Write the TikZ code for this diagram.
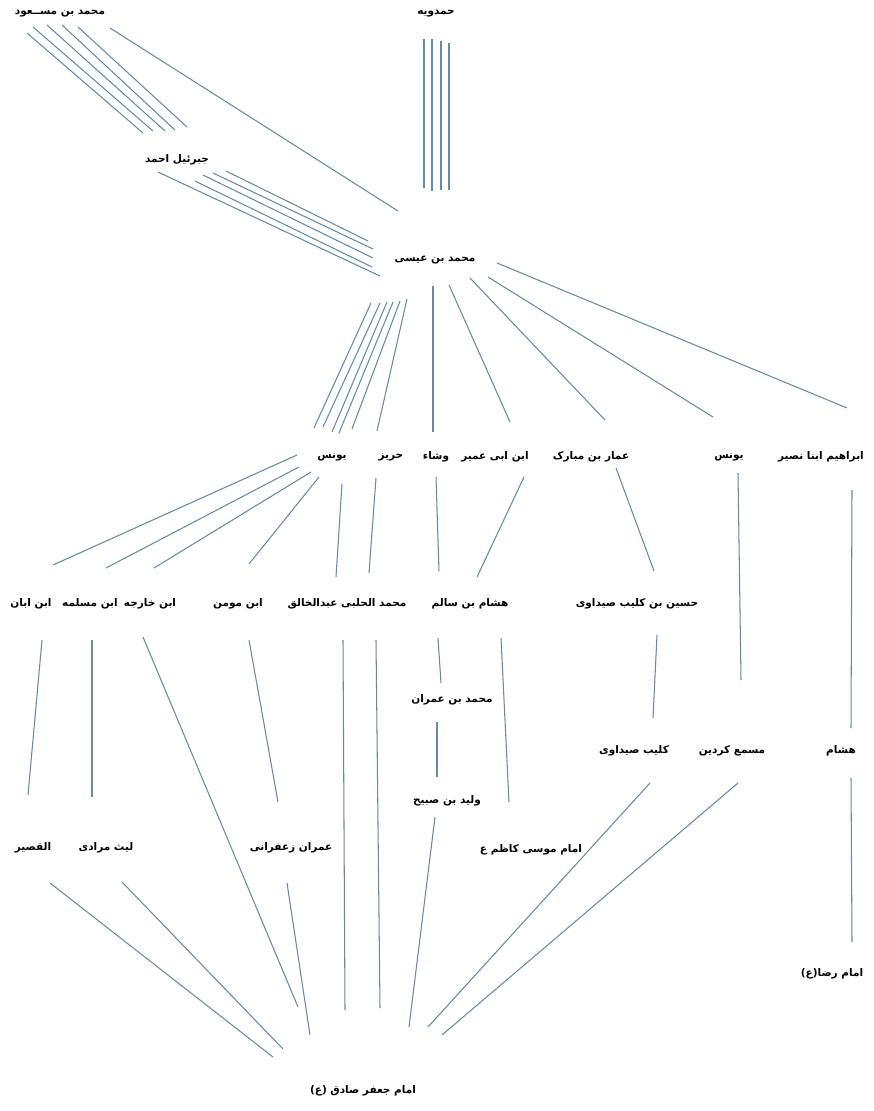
\documentclass[tikz,border=0pt]{standalone}
\usepackage{fontspec}
\TeXXeTstate=1
\newfontfamily\arabicfont[Script=Arabic]{DejaVu Sans}
\definecolor{linecol}{RGB}{100,138,172}
\newcommand\artext[1]{\beginR #1\endR}
\tikzset{
  lbl/.style={font=\arabicfont\bfseries\fontsize{10.5}{12}\selectfont, inner sep=0pt, text=black},
  link/.style={draw=linecol, line width=1.05pt}
}
\begin{document}
\begin{tikzpicture}[x=1pt,y=-1pt]
\useasboundingbox (0,0) rectangle (873,1111);
\fill[white] (0,0) rectangle (873,1111);
% ---------- labels ----------
\node[lbl] (masud) at (60,14) {\artext{محمد بن مســعود}};
\node[lbl] (hamdawayh) at (436,14) {\artext{حمدویه}};
\node[lbl] (jabrail) at (177,160) {\artext{جبرئیل احمد}};
\node[lbl] (isa) at (435,260) {\artext{محمد بن عیسی}};
\node[lbl] (yunusA) at (332,457) {\artext{یونس}};
\node[lbl] (hariz) at (391,457) {\artext{حریز}};
\node[lbl] (vashsha) at (436,457) {\artext{وشاء}};
\node[lbl] (abiumayr) at (495,457) {\artext{ابن ابی عمیر}};
\node[lbl] (ammar) at (591,457) {\artext{عمار بن مبارک}};
\node[lbl] (yunusB) at (729,457) {\artext{یونس}};
\node[lbl] (ibrahim) at (821,457) {\artext{ابراهیم ابنا نصیر}};
\node[lbl] (ibnaban) at (31,604) {\artext{ابن ابان}};
\node[lbl] (ibnmuslim) at (90,604) {\artext{ابن مسلمه}};
\node[lbl] (ibnkharija) at (150,604) {\artext{ابن خارجه}};
\node[lbl] (ibnmumin) at (238,604) {\artext{ابن مومن}};
\node[lbl] (halabi) at (347,604) {\artext{محمد الحلبی عبدالخالق}};
\node[lbl] (hishamA) at (470,604) {\artext{هشام بن سالم}};
\node[lbl] (husayn) at (637,604) {\artext{حسین بن کلیب صیداوی}};
\node[lbl] (imran) at (452,700) {\artext{محمد بن عمران}};
\node[lbl] (kulayb) at (634,751) {\artext{کلیب صیداوی}};
\node[lbl] (misma) at (732,751) {\artext{مسمع کردین}};
\node[lbl] (hishamB) at (841,751) {\artext{هشام}};
\node[lbl] (walid) at (447,801) {\artext{ولید بن صبیح}};
\node[lbl] (qasir) at (33,848) {\artext{القصیر}};
\node[lbl] (layth) at (106,848) {\artext{لیث مرادی}};
\node[lbl] (zafarani) at (291,848) {\artext{عمران زعفرانی}};
\node[lbl] (kazim) at (531,850) {\artext{امام موسی کاظم ع}};
\node[lbl] (rida) at (832,974) {\artext{امام رضا(ع)}};
\node[lbl] (sadiq) at (363,1091) {\artext{امام جعفر صادق (ع)}};
% ---------- connector end points ----------
% masud -> jabrail
\coordinate (m1a) at (27,33);  \coordinate (m1b) at (143,133);
\coordinate (m2a) at (33,27);  \coordinate (m2b) at (153,131);
\coordinate (m3a) at (47,25);  \coordinate (m3b) at (165,131);
\coordinate (m4a) at (62,25);  \coordinate (m4b) at (175,130);
\coordinate (m5a) at (78,27);  \coordinate (m5b) at (187,127);
% masud -> isa
\coordinate (m6a) at (110,28); \coordinate (m6b) at (398,211);
% hamdawayh -> isa
\coordinate (h1a) at (424,39); \coordinate (h1b) at (424,188);
\coordinate (h2a) at (432,39); \coordinate (h2b) at (432,191);
\coordinate (h3a) at (441,41); \coordinate (h3b) at (441,190);
\coordinate (h4a) at (449,43); \coordinate (h4b) at (449,190);
% jabrail -> isa
\coordinate (j1a) at (158,172); \coordinate (j1b) at (380,276);
\coordinate (j2a) at (195,181); \coordinate (j2b) at (372,267);
\coordinate (j3a) at (203,175); \coordinate (j3b) at (373,258);
\coordinate (j4a) at (213,173); \coordinate (j4b) at (373,249);
\coordinate (j5a) at (226,171); \coordinate (j5b) at (368,241);
% isa -> row 1
\coordinate (y1a) at (371,303); \coordinate (y1b) at (314,428);
\coordinate (y2a) at (380,303); \coordinate (y2b) at (323,427);
\coordinate (y3a) at (387,302); \coordinate (y3b) at (332,432);
\coordinate (y4a) at (393,302); \coordinate (y4b) at (339,433);
\coordinate (y5a) at (400,301); \coordinate (y5b) at (352,429);
\coordinate (hza) at (407,299); \coordinate (hzb) at (377,431);
\coordinate (vsa) at (433,286); \coordinate (vsb) at (433,432);
\coordinate (aua) at (449,285); \coordinate (aub) at (510,422);
\coordinate (ama) at (470,278); \coordinate (amb) at (605,420);
\coordinate (yba) at (488,277); \coordinate (ybb) at (713,417);
\coordinate (iba) at (497,263); \coordinate (ibb) at (847,408);
% row 1 -> row 2
\coordinate (r1a) at (297,455); \coordinate (r1b) at (53,565);
\coordinate (r2a) at (299,467); \coordinate (r2b) at (106,568);
\coordinate (r3a) at (311,472); \coordinate (r3b) at (154,568);
\coordinate (r4a) at (319,477); \coordinate (r4b) at (249,564);
\coordinate (r5a) at (342,484); \coordinate (r5b) at (336,577);
\coordinate (r6a) at (376,478); \coordinate (r6b) at (369,573);
\coordinate (r7a) at (436,477); \coordinate (r7b) at (439,571);
\coordinate (r8a) at (524,477); \coordinate (r8b) at (477,577);
\coordinate (r9a) at (616,468); \coordinate (r9b) at (654,571);
\coordinate (r10a) at (738,473); \coordinate (r10b) at (741,680);
\coordinate (r11a) at (852,490); \coordinate (r11b) at (851,728);
% row 2 -> below
\coordinate (s1a) at (42,640);  \coordinate (s1b) at (28,795);
\coordinate (s2a) at (92,640);  \coordinate (s2b) at (92,797);
\coordinate (s3a) at (143,637); \coordinate (s3b) at (298,1007);
\coordinate (s4a) at (249,640); \coordinate (s4b) at (278,802);
\coordinate (s5a) at (343,640); \coordinate (s5b) at (345,1010);
\coordinate (s6a) at (376,640); \coordinate (s6b) at (380,1008);
\coordinate (s7a) at (438,638); \coordinate (s7b) at (441,683);
\coordinate (s8a) at (501,638); \coordinate (s8b) at (509,802);
\coordinate (s9a) at (437,722); \coordinate (s9b) at (437,777);
\coordinate (s10a) at (435,817); \coordinate (s10b) at (409,1027);
\coordinate (s11a) at (657,635); \coordinate (s11b) at (653,718);
\coordinate (s12a) at (650,783); \coordinate (s12b) at (428,1027);
\coordinate (s13a) at (738,783); \coordinate (s13b) at (442,1035);
\coordinate (s14a) at (851,778); \coordinate (s14b) at (852,942);
% row 3 -> sadiq
\coordinate (t1a) at (50,883);  \coordinate (t1b) at (273,1057);
\coordinate (t2a) at (122,882); \coordinate (t2b) at (283,1049);
\coordinate (t3a) at (287,883); \coordinate (t3b) at (310,1035);
% ---------- connectors ----------
\foreach \p in {m1,m2,m3,m4,m5,m6,h1,h2,h3,h4,j1,j2,j3,j4,j5,
  y1,y2,y3,y4,y5,hz,vs,au,am,yb,ib,
  r1,r2,r3,r4,r5,r6,r7,r8,r9,r10,r11,
  s1,s2,s3,s4,s5,s6,s7,s8,s9,s10,s11,s12,s13,s14,t1,t2,t3}
  \draw[link] (\p a) -- (\p b);
\end{tikzpicture}
\end{document}
